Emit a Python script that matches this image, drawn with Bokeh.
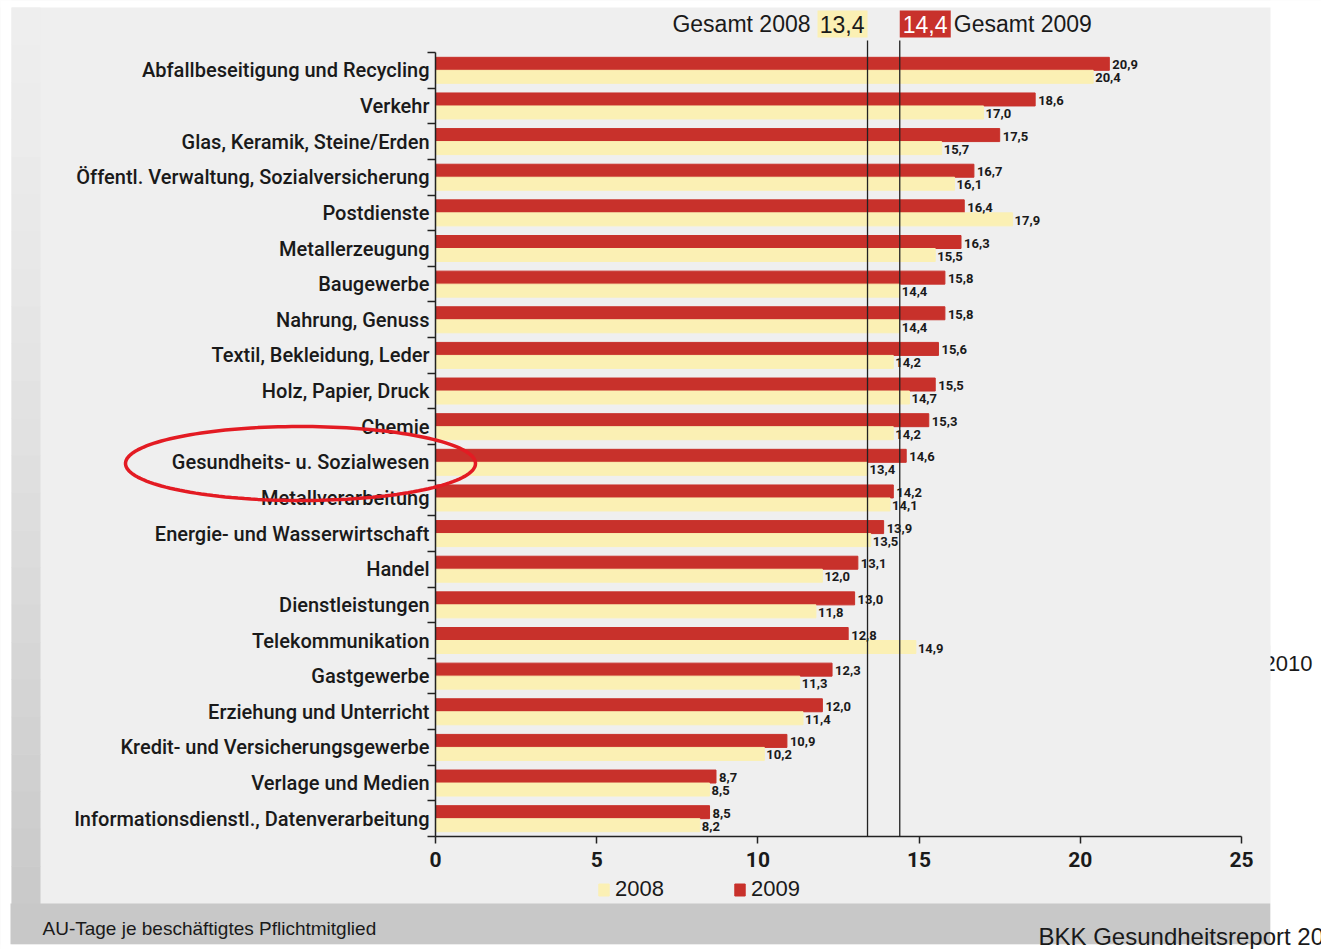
import numpy as np
from bokeh.plotting import figure
from bokeh.models import (Range1d, LinearAxis, FixedTicker, ColumnDataSource, BoxAnnotation,
                          PolyAnnotation, Label, Legend, LegendItem)
from bokeh.core.properties import value
from bokeh.transform import dodge
from bokeh.embed import file_html
from bokeh.resources import INLINE

# ---------------- data ----------------
categories = [
    "Abfallbeseitigung und Recycling",
    "Verkehr",
    "Glas, Keramik, Steine/Erden",
    "Öffentl. Verwaltung, Sozialversicherung",
    "Postdienste",
    "Metallerzeugung",
    "Baugewerbe",
    "Nahrung, Genuss",
    "Textil, Bekleidung, Leder",
    "Holz, Papier, Druck",
    "Chemie",
    "Gesundheits- u. Sozialwesen",
    "Metallverarbeitung",
    "Energie- und Wasserwirtschaft",
    "Handel",
    "Dienstleistungen",
    "Telekommunikation",
    "Gastgewerbe",
    "Erziehung und Unterricht",
    "Kredit- und Versicherungsgewerbe",
    "Verlage und Medien",
    "Informationsdienstl., Datenverarbeitung",
]
v2009 = [20.9, 18.6, 17.5, 16.7, 16.4, 16.3, 15.8, 15.8, 15.6, 15.5, 15.3,
         14.6, 14.2, 13.9, 13.1, 13.0, 12.8, 12.3, 12.0, 10.9, 8.7, 8.5]
v2008 = [20.4, 17.0, 15.7, 16.1, 17.9, 15.5, 14.4, 14.4, 14.2, 14.7, 14.2,
         13.4, 14.1, 13.5, 12.0, 11.8, 14.9, 11.3, 11.4, 10.2, 8.5, 8.2]
years = ["2008", "2009"]
total_2008 = 13.4
total_2009 = 14.4
x_ticks = [0, 5, 10, 15, 20, 25]

# ---------------- style ----------------
RED = "#c8312b"
YEL = "#fbf0b4"
PANEL = "#efefef"
BAND = "#c8c8c8"
INK = "#1a1a1a"
RING = "#e31b23"
COND = "Roboto"
COND_MED = "Roboto Medium"
SANS = "Liberation Sans"

n = len(categories)
pos = [n - i - 0.5 for i in range(n)]


def fmt(v):
    return f"{v:.1f}".replace(".", ",")


src = ColumnDataSource(dict(cat=categories, pos=pos, v08=v2008, v09=v2009,
                            t08=[fmt(v) for v in v2008], t09=[fmt(v) for v in v2009]))

# page geometry (the canvas starts at the page's top-left corner)
W, H = 1321, 949
AX_LEFT, AX_RIGHT = 435, 1241      # x = 0 .. 25
AX_TOP, AX_BOTTOM = 52, 836        # category block
PXU = (AX_RIGHT - AX_LEFT) / x_ticks[-1]
PYU = (AX_BOTTOM - AX_TOP) / n


def X(px):   # page pixel -> data x (decorations only)
    return (px - AX_LEFT) / PXU


def Y(py):   # page pixel -> data y (decorations only)
    return (AX_BOTTOM - py) / PYU


p = figure(width=W, height=H,
           x_range=Range1d(X(0), X(W)), y_range=Range1d(Y(H), Y(0)),
           output_backend="svg", toolbar_location=None,
           x_axis_location=None, y_axis_location=None,
           min_border_left=0, min_border_right=0, min_border_top=0, min_border_bottom=0,
           background_fill_color=PANEL, border_fill_color=PANEL, outline_line_color=None)
for g in p.grid:
    g.visible = False

# ---------------- page decorations ----------------
p.add_layout(BoxAnnotation(left=X(-20), right=X(11), top=Y(-20), bottom=Y(980),
                           fill_color="white", fill_alpha=1, line_color=None))
p.add_layout(BoxAnnotation(left=X(-20), right=X(1400), top=Y(-20), bottom=Y(7),
                           fill_color="white", fill_alpha=1, line_color=None))
steps = 24
for k in range(steps):
    y0 = 7 + k * (896 / steps)
    y1 = 7 + (k + 1) * (896 / steps)
    f = ((k + 0.5) / steps) ** 1.4
    c = int(round(238 - (238 - 201) * f))
    p.add_layout(BoxAnnotation(left=X(11), right=X(40), top=Y(y0), bottom=Y(y1 + 0.5),
                               fill_color=f"#{c:02x}{c:02x}{c:02x}", fill_alpha=1, line_color=None))
p.add_layout(BoxAnnotation(left=X(10), right=X(1270), top=Y(903), bottom=Y(944),
                           fill_color=BAND, fill_alpha=1, line_color=None))
p.add_layout(BoxAnnotation(left=X(-20), right=X(1400), top=Y(944), bottom=Y(980),
                           fill_color="white", fill_alpha=1, line_color=None))
p.add_layout(BoxAnnotation(left=X(1270), right=X(1400), top=Y(-20), bottom=Y(980),
                           fill_color="white", fill_alpha=1, line_color=None))
p.add_layout(Label(x=X(1263), y=Y(663), text="2010", text_font=SANS, text_font_size="22px",
                   text_color=INK, text_baseline="middle", text_align="left"))
p.add_layout(BoxAnnotation(left=X(1250), right=X(1270), top=Y(645), bottom=Y(680),
                           fill_color=PANEL, fill_alpha=1, line_color=None))
p.add_layout(Label(x=X(42), y=Y(928), text="AU-Tage je beschäftigtes Pflichtmitglied",
                   text_font=SANS, text_font_size="19px", text_color=INK,
                   text_baseline="middle", text_align="left"))
p.add_layout(Label(x=X(1038), y=Y(936), text="BKK Gesundheitsreport 2010",
                   text_font=SANS, text_font_size="24px", text_color=INK,
                   text_baseline="middle", text_align="left"))

# ---------------- bars ----------------
BH = 13 / PYU
OFF = 6.5 / PYU
r09 = p.hbar(y=dodge("pos", OFF), left=0, right="v09", height=BH, color=RED, source=src)
r08 = p.hbar(y=dodge("pos", -OFF), left=0, right="v08", height=BH, color=YEL, source=src)

p.text(x="v09", y=dodge("pos", OFF), text="t09", x_offset=3, y_offset=1,
       text_font=value(COND), text_font_size="13px", text_font_style="bold", text_color=INK,
       text_baseline="middle", text_align="left", source=src)
p.text(x="v08", y=dodge("pos", -OFF), text="t08", x_offset=2, y_offset=1,
       text_font=value(COND), text_font_size="13px", text_font_style="bold", text_color=INK,
       text_baseline="middle", text_align="left", source=src)

# ---------------- reference lines + header ----------------
for tot in (total_2008, total_2009):
    p.add_layout(BoxAnnotation(left=tot, right=tot, top=Y(40), bottom=0,
                               fill_alpha=0, line_color="#222222", line_width=1.3, line_alpha=1))

p.add_layout(BoxAnnotation(left=total_2008 - 50 / PXU, right=total_2008, top=Y(10), bottom=Y(37),
                           fill_color=YEL, fill_alpha=1, line_color=None))
p.add_layout(BoxAnnotation(left=total_2009, right=total_2009 + 51 / PXU, top=Y(10), bottom=Y(37),
                           fill_color=RED, fill_alpha=1, line_color=None))
p.add_layout(Label(x=total_2008, y=Y(23.5), x_offset=-57, text="Gesamt " + years[0],
                   text_font=SANS, text_font_size="23px", text_color=INK,
                   text_baseline="middle", text_align="right"))
p.add_layout(Label(x=total_2008, y=Y(23.5), x_offset=-3, text=fmt(total_2008),
                   text_font=SANS, text_font_size="23px", text_color=INK,
                   text_baseline="middle", text_align="right"))
p.add_layout(Label(x=total_2009, y=Y(23.5), x_offset=3, text=fmt(total_2009),
                   text_font=SANS, text_font_size="23px", text_color="white",
                   text_baseline="middle", text_align="left"))
p.add_layout(Label(x=total_2009, y=Y(23.5), x_offset=54, text="Gesamt " + years[1],
                   text_font=SANS, text_font_size="23px", text_color=INK,
                   text_baseline="middle", text_align="left"))

# ---------------- axes (drawn at fixed data locations inside the frame) ----------------
xaxis = LinearAxis(ticker=FixedTicker(ticks=x_ticks, minor_ticks=[]),
                   fixed_location=0, bounds=(x_ticks[0], x_ticks[-1]),
                   axis_line_color="#222222", axis_line_width=1.5,
                   major_tick_line_color="#222222", major_tick_line_width=1.5,
                   major_tick_out=7, major_tick_in=0, minor_tick_line_color=None,
                   major_label_standoff=8, major_label_text_font=COND,
                   major_label_text_font_style="bold", major_label_text_font_size="21px",
                   major_label_text_color=INK)
p.add_layout(xaxis, "below")

yaxis = LinearAxis(ticker=FixedTicker(ticks=pos, minor_ticks=list(range(n + 1))),
                   fixed_location=0, bounds=(0, n),
                   major_label_overrides={pos[i]: categories[i] for i in range(n)},
                   axis_line_color="#222222", axis_line_width=1.5,
                   major_tick_line_color=None, major_tick_out=0, major_tick_in=0,
                   minor_tick_line_color="#222222", minor_tick_line_width=1.3,
                   minor_tick_out=8, minor_tick_in=0,
                   major_label_standoff=-2, major_label_text_font=COND_MED,
                   major_label_text_font_size="20px", major_label_text_color=INK)
p.add_layout(yaxis, "left")

legend = Legend(items=[LegendItem(label=years[0], renderers=[r08]),
                       LegendItem(label=years[1], renderers=[r09])],
                orientation="horizontal", location=(597, 47),
                glyph_width=13, glyph_height=15, label_standoff=5, spacing=69,
                padding=0, margin=0, border_line_color=None, background_fill_alpha=0,
                label_text_font=SANS, label_text_font_size="22px", label_text_color=INK)
p.add_layout(legend, "center")

# ---------------- highlight ring ----------------
t = np.linspace(0, 2 * np.pi, 160)
cx, cy, ax_, by_ = 300, 463, 175, 37
p.add_layout(PolyAnnotation(xs=list(X(cx + ax_ * np.cos(t))), ys=list(Y(cy + by_ * np.sin(t))),
                            fill_alpha=0, line_color=RING, line_width=3.5, line_alpha=1))

open("out.html", "w").write(file_html(p, INLINE))
